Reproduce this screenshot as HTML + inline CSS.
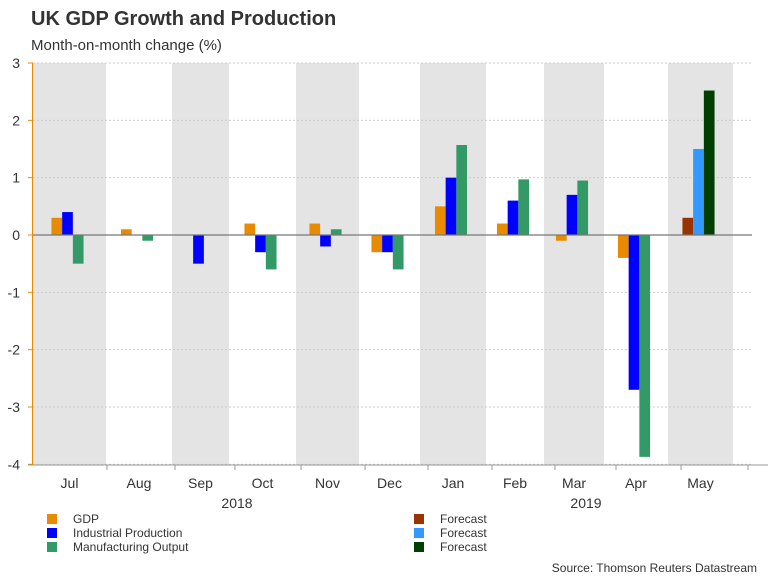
<!DOCTYPE html>
<html><head><meta charset="utf-8"><style>
body{margin:0;background:#fff;width:768px;height:576px;overflow:hidden;font-family:"Liberation Sans",sans-serif;}
</style></head><body>
<svg width="768" height="576" xmlns="http://www.w3.org/2000/svg" font-family="Liberation Sans, sans-serif">
<text x="31" y="25" font-size="20" font-weight="bold" fill="#333">UK GDP Growth and Production</text>
<text x="31" y="50" font-size="15" fill="#333">Month-on-month change (%)</text>
<g id="bands"></g><g id="grid"></g><g id="bars"></g><g id="axes"></g>
<g font-size="12" fill="#333">
<rect x="47" y="514" width="10" height="10" fill="#e88b00"/><text x="73" y="523">GDP</text>
<rect x="47" y="528" width="10" height="10" fill="#0000ff"/><text x="73" y="537">Industrial Production</text>
<rect x="47" y="542" width="10" height="10" fill="#339966"/><text x="73" y="551">Manufacturing Output</text>
<rect x="414" y="514" width="10" height="10" fill="#993300"/><text x="440" y="523">Forecast</text>
<rect x="414" y="528" width="10" height="10" fill="#3399ff"/><text x="440" y="537">Forecast</text>
<rect x="414" y="542" width="10" height="10" fill="#003f00"/><text x="440" y="551">Forecast</text>
</g>
<text x="757" y="572" font-size="12" fill="#333" text-anchor="end">Source: Thomson Reuters Datastream</text>
</svg>
<script>
const categories=["Jul","Aug","Sep","Oct","Nov","Dec","Jan","Feb","Mar","Apr","May"];
const gdp=[0.3,0.1,0,0.2,0.2,-0.3,0.5,0.2,-0.1,-0.4,0.3];
const ip=[0.4,0,-0.5,-0.3,-0.2,-0.3,1.0,0.6,0.7,-2.7,1.5];
const mo=[-0.5,-0.1,0,-0.6,0.1,-0.6,1.57,0.97,0.95,-3.87,2.52];
const forecastFlags=[0,0,0,0,0,0,0,0,0,0,1];
const yTicks=[3,2,1,0,-1,-2,-3,-4];
const years=["2018","2019"];
const NS="http://www.w3.org/2000/svg";
const edges=[33,106,172,229,296,359,420,486,544,604,668,733];
const xTickPos=[107,175,235,301,365,428,492,555,616,681,748];
function y(v){return 235-v*57.33;}
function bandL(i){return edges[i];}
function bandW(i){return edges[i+1]-edges[i];}
function mk(tag,attrs,parent){const e=document.createElementNS(NS,tag);for(const k in attrs)e.setAttribute(k,attrs[k]);document.getElementById(parent).appendChild(e);return e;}
for(let i=0;i<categories.length;i++){
  if(i%2===0){const r=mk('rect',{x:bandL(i),y:63,width:bandW(i),height:402,fill:'#e4e4e4'},'bands');
  
  }
}
yTicks.forEach(t=>{
  if(t!==0){const l=mk('line',{x1:33,x2:752,y1:y(t),y2:y(t),stroke:'#ccc','stroke-dasharray':'2,2'},'grid');
  
  }
  const tx=mk('text',{x:20,y:y(t)+5,'font-size':14,fill:'#333','text-anchor':'end'},'axes');tx.textContent=t;
  
  
  const tk=mk('line',{x1:28,x2:33,y1:y(t),y2:y(t),stroke:'#e88b00'},'axes');
  
  
});
const bw=10.7;
const series=[[gdp,'#e88b00','#993300','gdp'],[ip,'#0000ff','#3399ff','ip'],[mo,'#339966','#003f00','mo']];
for(let i=0;i<categories.length;i++){
  const c=bandL(i)+bandW(i)/2-2;
  series.forEach((s,j)=>{
    const v=s[0][i];const x=c-1.5*bw+j*bw;
    const top=Math.min(y(v),y(0));const h=Math.abs(y(v)-y(0));
    const r=mk('rect',{x:x,y:top,width:bw,height:Math.max(h,0.5),fill:forecastFlags[i]?s[2]:s[1]},'bars');
    
    
  });
  const lb=mk('text',{x:bandL(i)+bandW(i)/2,y:488,'font-size':14,fill:'#333','text-anchor':'middle'},'axes');lb.textContent=categories[i];
  
  
}
xTickPos.forEach(px=>{
  const tk=mk('line',{x1:px,x2:px,y1:465,y2:470,stroke:'#999'},'axes');
  
  
});
const z=mk('line',{x1:33,x2:752,y1:y(0),y2:y(0),stroke:'#777','stroke-width':1.2},'axes');


const xa=mk('line',{x1:28,x2:768,y1:465,y2:465,stroke:'#999'},'axes');


const ya=mk('line',{x1:32.5,x2:32.5,y1:63,y2:465,stroke:'#e88b00'},'axes');


[[237,years[0]],[586,years[1]]].forEach(p=>{
  const t=mk('text',{x:p[0],y:508,'font-size':14,fill:'#333','text-anchor':'middle'},'axes');t.textContent=p[1];
  
  
});
</script>
</body></html>
